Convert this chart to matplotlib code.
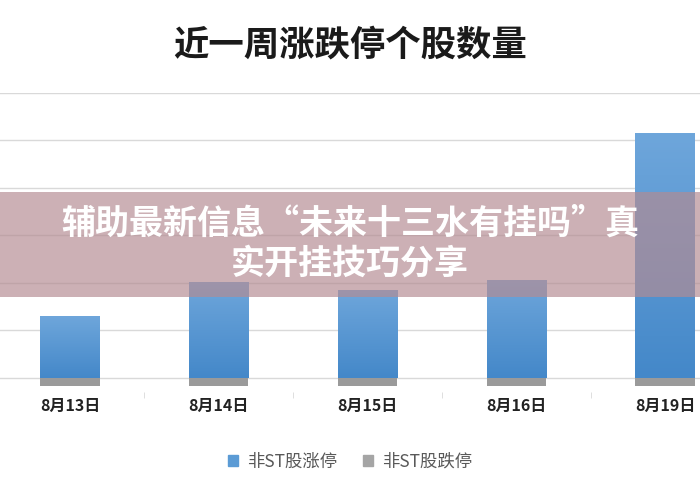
import numpy as np
import matplotlib.pyplot as plt
from matplotlib.patches import Rectangle
from matplotlib.colors import LinearSegmentedColormap

plt.rcParams['font.family'] = ['Noto Sans CJK SC', 'DejaVu Sans']

dates = ["8月13日", "8月14日", "8月15日", "8月16日", "8月19日"]
up_limit = [26, 40, 37, 41, 103]        # 非ST股涨停
down_limit = [-3.5, -3.5, -3.5, -3.5, -3.5]  # 非ST股跌停
title = "近一周涨跌停个股数量"
banner = "辅助最新信息“未来十三水有挂吗”真\n实开挂技巧分享"

fig = plt.figure(figsize=(7, 4.9), dpi=100)
ax = fig.add_axes([0, 0.2, 1, 0.611])

x = np.arange(len(dates))
bars = ax.bar(x, up_limit, width=0.4, color="#5B9BD5", zorder=3)
ax.bar(x, down_limit, width=0.4, color="#9a9a9a", zorder=2)

# vertical gradient on the blue bars
grad = np.linspace(0, 1, 100).reshape(-1, 1)
cmap = LinearSegmentedColormap.from_list("b", ["#4488C9", "#6EA6DB"])
for b in bars:
    x0, y0, w, h = b.get_x(), b.get_y(), b.get_width(), b.get_height()
    ax.imshow(grad, extent=(x0, x0 + w, y0, y0 + h), origin="lower",
              cmap=cmap, aspect="auto", zorder=4)
    b.set_visible(False)

ax.set_xlim(-0.47, 4.235)
ax.set_ylim(-6, 120)
ax.set_yticks(np.arange(0, 121, 20))
ax.yaxis.grid(True, color="#d9d9d9", linewidth=1, zorder=0)
ax.tick_params(axis="y", length=0, labelleft=False)
ax.set_xticks(x)
ax.set_xticklabels(dates, fontsize=11.5, fontweight="bold", color="#222222")
ax.tick_params(axis="x", length=0, pad=4)
ax.set_xticks(x[:-1] + 0.5, minor=True)
ax.tick_params(axis="x", which="minor", length=4, color="#d9d9d9")
for s in ax.spines.values():
    s.set_visible(False)

fig.text(0.5, 1 - 45 / 490, title, ha="center", va="center", fontsize=25.5,
         fontweight="bold", color="#1a1a1a")

# legend
h1 = Rectangle((0, 0), 1, 1, color="#5B9BD5")
h2 = Rectangle((0, 0), 1, 1, color="#A5A5A5")
fig.legend([h1, h2], ["非ST股涨停", "非ST股跌停"], loc="center",
           bbox_to_anchor=(0.5, 1 - 462 / 490), ncol=2, frameon=False,
           fontsize=12.5, handlelength=0.6, handleheight=0.6, handletextpad=0.5,
           columnspacing=1.5, labelcolor="#595959")

# overlay banner
fig.patches.append(Rectangle((0, 1 - 297 / 490), 1, 105 / 490,
                             transform=fig.transFigure, facecolor="#B48B92",
                             edgecolor="none", alpha=0.68, zorder=10))
fig.text(0.5, 1 - 243 / 490, banner, ha="center", va="center", fontsize=24.5,
         fontweight="bold", color="white", linespacing=1.15, zorder=11)

fig.savefig("out.png", dpi=100)
